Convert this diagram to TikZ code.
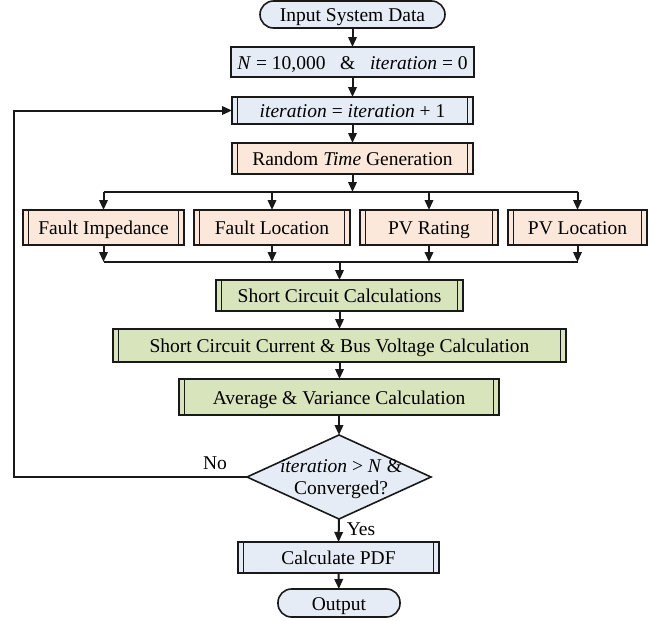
\documentclass[tikz,border=0pt]{standalone}
\usepackage{fontspec}
\setmainfont{Liberation Serif}
\usetikzlibrary{shapes.geometric,arrows.meta}
\definecolor{bluefill}{RGB}{230,236,246}
\definecolor{peachfill}{RGB}{252,232,218}
\definecolor{greenfill}{RGB}{216,228,188}
\definecolor{linec}{RGB}{25,25,25}
\tikzset{
  box/.style={draw=linec, line width=1.6pt, rectangle, inner sep=0pt, outer sep=0pt,
    text height=14.5pt, text depth=0.5pt,
    font=\fontsize{19.5}{22}\selectfont},
  sub/.style={box, path picture={
    \draw[line width=1.5pt, linec] ([xshift=5.5pt]path picture bounding box.north west) -- ([xshift=5.5pt]path picture bounding box.south west);
    \draw[line width=1.5pt, linec] ([xshift=-5.5pt]path picture bounding box.north east) -- ([xshift=-5.5pt]path picture bounding box.south east);}},
  term/.style={box, rounded corners=13.5pt},
  dia/.style={draw=linec, line width=1.6pt, diamond, inner sep=0pt, outer sep=0pt, fill=bluefill},
  lbl/.style={font=\fontsize{19.5}{22}\selectfont, inner sep=0pt, align=center},
  arr/.style={-{Triangle[length=10pt,width=8.5pt]}, line width=2pt, draw=linec, line join=miter},
  conn/.style={line width=2pt, draw=linec}
}
\begin{document}
\begin{tikzpicture}[x=1pt,y=-1pt]
\useasboundingbox (0,0) rectangle (657,621);
% nodes
\node[term, fill=bluefill, minimum width=185pt, minimum height=27pt] (in) at (352.5,14.5) {Input System Data};
\node[box, fill=bluefill, minimum width=243pt, minimum height=30pt] (nbox) at (352.5,62) {\textit{N} = 10,000 \ \ \& \ \ \textit{iteration} = 0};
\node[sub, fill=bluefill, minimum width=241pt, minimum height=27pt] (iter) at (352.5,110.5) {\textit{iteration} = \textit{iteration} + 1};
\node[sub, fill=peachfill, minimum width=241pt, minimum height=31pt] (rand) at (352.5,158.5) {Random \textit{Time} Generation};
\node[sub, fill=peachfill, minimum width=161pt, minimum height=35pt] (fi) at (103.5,227.5) {Fault Impedance};
\node[sub, fill=peachfill, minimum width=156pt, minimum height=35pt] (fl) at (272,227.5) {Fault Location};
\node[sub, fill=peachfill, minimum width=138pt, minimum height=35pt] (pvr) at (429,227.5) {PV Rating};
\node[sub, fill=peachfill, minimum width=139pt, minimum height=35pt] (pvl) at (577.5,227.5) {PV Location};
\node[sub, fill=greenfill, minimum width=247pt, minimum height=31pt] (sc) at (339.5,295.5) {Short Circuit Calculations};
\node[sub, fill=greenfill, minimum width=453pt, minimum height=33pt] (cur) at (339.5,345.5) {Short Circuit Current \& Bus Voltage Calculation};
\node[sub, fill=greenfill, minimum width=320pt, minimum height=36pt] (avg) at (339,397) {Average \& Variance Calculation};
\node[dia, minimum width=184pt, minimum height=84pt] (dec) at (339,477) {};
\node[lbl] (dectext) at (341,479) {\textit{iteration} > \textit{N} \&\\Converged?};
\node[sub, fill=bluefill, minimum width=201pt, minimum height=31pt] (pdf) at (338.5,557.5) {Calculate PDF};
\node[term, fill=bluefill, minimum width=122pt, minimum height=28pt] (out) at (339,603) {Output};
\node[lbl] (no) at (215,463) {No};
\node[lbl] (yes) at (361,529) {Yes};
% helper coordinates
\coordinate (bl) at (103.5,192);
\coordinate (br) at (577.5,192);
\coordinate (ml) at (103.5,262);
\coordinate (mr) at (577.5,262);
\coordinate (lp) at (14,0);
% connectors
\draw[arr] (in) -- (nbox);
\draw[arr] (nbox) -- (iter);
\draw[arr] (iter) -- (rand);
\draw[arr] (rand.south) -- (rand.south |- bl);
\draw[conn] (bl) -- (br);
\foreach \n in {fi,fl,pvr,pvl}{
  \draw[arr] (\n.north |- bl) -- (\n.north);
  \draw[arr] (\n.south) -- (\n.south |- ml);
}
\draw[conn] (ml) -- (mr);
\draw[arr] (sc.north |- ml) -- (sc.north);
\draw[arr] (sc) -- (cur);
\draw[arr] (cur.south) -- (cur.south |- avg.north);
\draw[arr] (avg.south) -- (dec.north);
\draw[arr] (dec.west) -- (dec.west -| lp) -- (iter.west -| lp) -- (iter.west);
\draw[arr] (dec.south) -- (pdf.north);
\draw[arr] (pdf) -- (out);
\end{tikzpicture}
\end{document}
